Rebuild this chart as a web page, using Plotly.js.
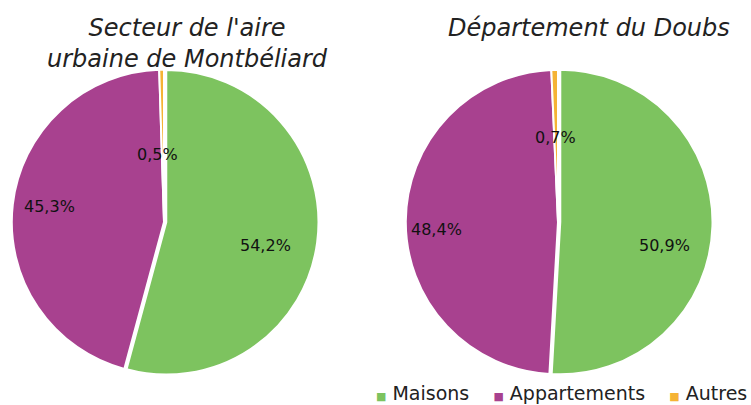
<!DOCTYPE html>
<html><head><meta charset="utf-8">
<script src="https://cdn.plot.ly/plotly-3.0.1.min.js"></script>
<style>html,body{margin:0;padding:0;background:#fff;}#chart{width:751px;height:405px;}</style>
</head><body><div id="chart"></div>
<script>
const categories = ["Maisons", "Appartements", "Autres"];
const montbeliard = [54.2, 45.3, 0.5];
const doubs = [50.9, 48.4, 0.7];
const chartTitles = ["Secteur de l'aire<br>urbaine de Montbéliard", "Département du Doubs"];
const colors = ["#7DC35F", "#A8418F", "#F5B335"];

const W = 751, H = 405;
const px = x => x / W, py = y => 1 - y / H;
const fmt = v => v.toFixed(1).replace('.', ',') + '%';

function pieDomain(cx, cy, r) {
  return {x: [px(cx - r), px(cx + r)], y: [py(cy + r), py(cy - r)]};
}

const common = {
  type: 'pie', labels: categories, sort: false, direction: 'clockwise', rotation: 0,
  textinfo: 'none', hoverinfo: 'label+percent', showlegend: false,
  marker: {colors: colors, line: {color: '#fff', width: 2}},
  pull: [0.015, 0, 0]
};
const data = [
  Object.assign({}, common, {values: montbeliard, domain: pieDomain(164, 222, 154.5), name: 'm'}),
  Object.assign({}, common, {values: doubs, domain: pieDomain(558, 222, 154.5), name: 'd'})
];

const lblFont = {family: 'DejaVu Sans', size: 16, color: '#111'};
const labelPos = [
  [[265, 245], [49, 207], [157, 155]],
  [[664, 245], [436, 229], [555, 137]]
];
const annotations = [];
[montbeliard, doubs].forEach((vals, i) => {
  vals.forEach((v, j) => {
    annotations.push({xref: 'paper', yref: 'paper', x: px(labelPos[i][j][0]), y: py(labelPos[i][j][1]),
      text: fmt(v), showarrow: false, font: lblFont, xanchor: 'center', yanchor: 'middle'});
  });
});
const titleFont = {family: 'DejaVu Sans', size: 24, color: '#222'};
annotations.push({xref: 'paper', yref: 'paper', x: px(187), y: py(43), text: '<i>' + chartTitles[0] + '</i>',
  showarrow: false, font: titleFont, xanchor: 'center', yanchor: 'middle'});
annotations.push({xref: 'paper', yref: 'paper', x: px(589), y: py(28), text: '<i>' + chartTitles[1] + '</i>',
  showarrow: false, font: titleFont, xanchor: 'center', yanchor: 'middle'});

// legend built from categories/colors
const legendText = categories.map((c, i) =>
  '<span style="color:' + colors[i] + ';font-size:11px">■</span> ' + c).join('&nbsp;&nbsp;&nbsp;&nbsp;');
annotations.push({xref: 'paper', yref: 'paper', x: px(749), y: py(393), text: legendText,
  showarrow: false, font: {family: 'DejaVu Sans', size: 19, color: '#222'}, xanchor: 'right', yanchor: 'middle'});

const layout = {
  width: W, height: H, margin: {l: 0, r: 0, t: 0, b: 0},
  paper_bgcolor: '#fff', plot_bgcolor: '#fff',
  showlegend: false,
  annotations: annotations
};
Plotly.newPlot('chart', data, layout, {displayModeBar: false, staticPlot: true});
</script></body></html>
